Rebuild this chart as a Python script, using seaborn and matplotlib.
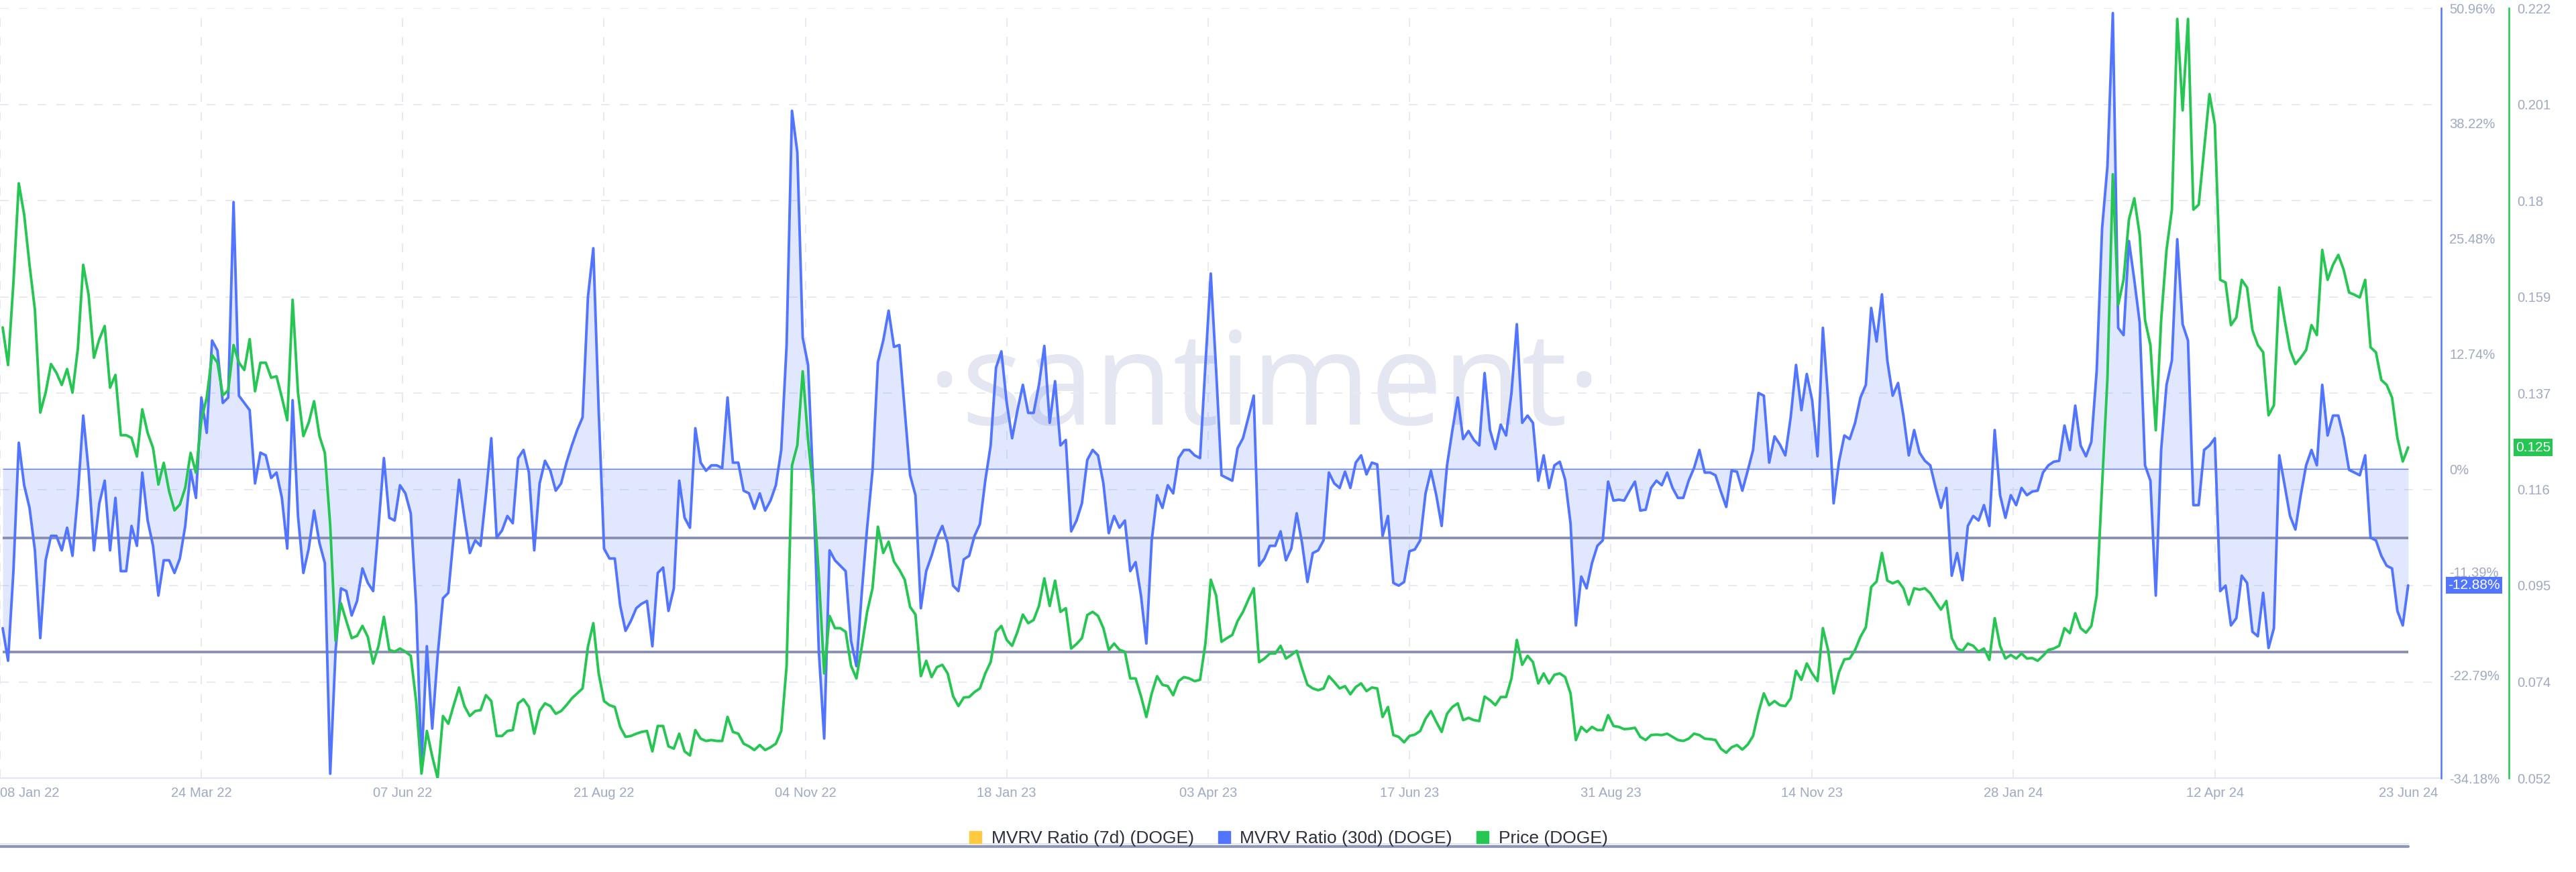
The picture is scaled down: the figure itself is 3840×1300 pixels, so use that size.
import matplotlib
matplotlib.use("Agg")
import matplotlib.pyplot as plt
from matplotlib.lines import Line2D
import pandas as pd
import seaborn as sns

# values, one every 2 days from 09 Jan 22 to 23 Jun 24
start_date = "2022-01-09"

mvrv_30d = [
    -17.6, -21.2, -11.3, 2.9, -1.8, -4.3, -9.0, -18.7, -10.1, -7.4,
    -7.4, -9.0, -6.5, -9.6, -2.9, 5.9, -0.2, -9.0, -3.8, -1.3,
    -9.0, -3.2, -11.3, -11.3, -6.3, -8.5, -0.4, -5.7, -8.5, -14.0,
    -10.1, -10.1, -11.5, -9.9, -6.3, -0.2, -3.2, 7.9, 4.0, 14.2,
    13.1, 7.3, 7.9, 29.5, 8.1, 7.3, 6.5, -1.6, 1.8, 1.5,
    -1.0, -0.4, -3.2, -8.8, 7.6, -5.2, -11.5, -8.8, -4.6, -8.2,
    -10.4, -33.7, -20.1, -13.2, -13.5, -16.2, -14.6, -11.0, -12.6, -13.5,
    -6.3, 1.2, -5.4, -5.7, -1.8, -2.7, -4.9,
    -15.1, -32.6, -19.6, -28.7, -20.7, -14.3, -13.7, -7.4, -1.2, -5.4,
    -9.3, -7.9, -8.5, -2.9, 3.4, -7.6, -6.8, -5.2, -6.0, 1.2,
    2.1, -0.4, -9.0, -1.6, 0.9, -0.2, -2.4, -1.6, 0.7, 2.6,
    4.3, 5.7, 19.0, 24.4, 6.5, -8.8, -9.9, -9.9, -15.1, -17.9,
    -16.8, -15.4, -14.9, -14.6, -19.6, -11.5, -10.9, -15.7, -13.2, -1.3,
    -5.4, -6.5, 4.5, 0.7, -0.2, 0.4, 0.4, 0.1, 7.9, 0.7,
    0.7, -2.4, -2.7, -4.4, -2.7, -4.6, -3.5, -1.8, 2.1, 13.7,
    39.6, 35.0, 14.5,
    11.5, -2.4, -20.1, -29.8, -9.0, -10.1, -10.7, -11.3, -19.0, -21.8,
    -13.7, -6.5, -0.2, 11.8, 14.2, 17.5, 13.5, 13.7, 6.5, -0.7,
    -2.9, -15.4, -11.3, -9.6, -7.6, -6.3, -8.2, -12.9, -13.5, -10.0,
    -9.6, -7.4, -6.1, -1.3, 2.6, 11.2, 13.0, 7.3, 3.4, 6.5,
    9.3, 6.2, 6.2, 9.3, 13.6, 5.1, 9.7, 2.6, 3.2, -6.9,
    -5.7, -3.8, 1.0, 2.1, 1.5, -1.6, -7.1, -5.2, -6.5, -5.7,
    -11.3, -10.3, -14.0, -19.3, -7.9, -2.9, -4.3, -1.8, -2.7, 1.2,
    2.1, 2.1, 1.5, 1.2, 11.5,
    21.6, 10.9, -0.7, -1.0, -1.3, 2.3, 3.4, 5.7, 8.1, -10.7,
    -9.9, -8.5, -8.5, -6.9, -10.1, -8.8, -4.9, -8.2, -12.5, -9.3,
    -9.0, -7.9, -0.4, -1.6, -2.1, -0.3, -2.1, 0.7, 1.5, -0.6,
    0.7, 0.5, -7.4, -5.2, -12.6, -12.9, -12.5, -9.1, -8.9, -7.9,
    -2.7, -0.2, -2.9, -6.3, 0.4, 4.3, 7.9, 3.3, 4.2, 3.2,
    2.6, 10.6, 4.3, 2.2, 4.9, 3.7, 8.4, 16.0, 5.1, 5.9,
    5.1, -1.3, 1.5, -2.1, 0.4, 0.8, -1.2, -6.0, -17.3, -11.9,
    -13.2, -10.4, -8.5, -7.9, -1.4,
    -3.5, -3.4, -3.5, -2.4, -1.4, -4.6, -4.5, -2.1, -1.3, -1.8,
    -0.4, -2.1, -3.2, -3.2, -1.3, 0.1, 2.1, -0.4, -0.4, -0.7,
    -2.5, -4.2, -0.2, -0.3, -2.4, -0.2, 2.1, 8.4, 8.1, 0.7,
    3.6, 2.7, 1.5, 5.7, 11.5, 6.5, 10.5, 7.6, 1.4, 15.6,
    7.5, -3.8, 0.8, 3.7, 3.3, 5.1, 7.9, 9.3, 17.8, 14.1,
    19.3, 12.0, 8.1, 9.5, 5.9, 1.5, 4.3, 1.8, 0.9, 0.4,
    -2.1, -4.3, -2.1, -11.8, -9.3, -12.3, -6.3, -5.2, -5.7, -4.0,
    -6.3, 4.3, -2.9, -5.4, -2.9,
    -4.0, -2.1, -2.9, -2.5, -2.4, -0.4, 0.4, 0.8, 0.9, 4.8,
    2.1, 7.0, 2.6, 1.4, 3.0, 10.9, 26.6, 33.5, 50.4, 15.6,
    14.8, 25.2, 20.9, 16.2, 0.4, -1.3, -14.0, 2.1, 9.3, 12.0,
    25.4, 16.0, 14.2, -4.0, -4.0, 2.1, 2.6, 3.4, -13.5, -12.9,
    -17.3, -16.5, -11.8, -12.6, -18.0, -18.5, -13.7, -19.8, -17.6, 1.5,
    -1.8, -5.2, -6.7, -2.9, 0.4, 2.1, 0.4, 9.3, 3.7, 5.9,
    5.9, 3.4, -0.1, -0.4, -0.7, 1.5, -7.6, -7.9, -9.6, -10.7,
    -11.0, -15.7, -17.3, -12.88,
]

price_doge = [
    0.1515, 0.1432, 0.1614, 0.1833, 0.1764, 0.1653, 0.1554, 0.1327, 0.1371, 0.1434,
    0.1415, 0.1388, 0.1423, 0.1371, 0.1468, 0.1653, 0.1587, 0.1448, 0.1489, 0.1518,
    0.1382, 0.1410, 0.1277, 0.1277, 0.1271, 0.1230, 0.1334, 0.1282, 0.1249, 0.1168,
    0.1216, 0.1153, 0.1111, 0.1124, 0.1161, 0.1238, 0.1194, 0.1310, 0.1360, 0.1454,
    0.1437, 0.1365, 0.1376, 0.1476, 0.1437, 0.1421, 0.1489, 0.1374, 0.1437, 0.1437,
    0.1404, 0.1407, 0.1360, 0.1310, 0.1576, 0.1371, 0.1275, 0.1305, 0.1352, 0.1275,
    0.1238, 0.1078, 0.0823, 0.0906, 0.0867, 0.0829, 0.0834, 0.0856, 0.0832, 0.0773,
    0.0812, 0.0876, 0.0803, 0.0799, 0.0806, 0.0799, 0.0790,
    0.0690, 0.0530, 0.0624, 0.0568, 0.0520, 0.0657, 0.0640, 0.0681, 0.0720, 0.0679,
    0.0657, 0.0668, 0.0670, 0.0703, 0.0690, 0.0613, 0.0613, 0.0624, 0.0626, 0.0685,
    0.0694, 0.0677, 0.0618, 0.0668, 0.0685, 0.0679, 0.0662, 0.0668, 0.0681, 0.0696,
    0.0707, 0.0718, 0.0810, 0.0862, 0.0751, 0.0690, 0.0681, 0.0677, 0.0633, 0.0611,
    0.0613, 0.0618, 0.0622, 0.0624, 0.0579, 0.0635, 0.0635, 0.0590, 0.0585, 0.0618,
    0.0579, 0.0570, 0.0626, 0.0607, 0.0602, 0.0604, 0.0602, 0.0602, 0.0655, 0.0622,
    0.0618, 0.0596, 0.0590, 0.0582, 0.0593, 0.0582, 0.0588, 0.0596, 0.0624, 0.0768,
    0.1210, 0.1255, 0.1418,
    0.1266, 0.1150, 0.0967, 0.0751, 0.0878, 0.0851, 0.0851, 0.0843, 0.0768, 0.0740,
    0.0810, 0.0887, 0.0939, 0.1075, 0.1017, 0.1042, 0.0998, 0.0980, 0.0958, 0.0898,
    0.0881, 0.0745, 0.0779, 0.0743, 0.0765, 0.0770, 0.0751, 0.0701, 0.0679, 0.0698,
    0.0699, 0.0710, 0.0718, 0.0751, 0.0776, 0.0843, 0.0856, 0.0825, 0.0812, 0.0843,
    0.0881, 0.0862, 0.0869, 0.0900, 0.0961, 0.0900, 0.0956, 0.0887, 0.0895, 0.0806,
    0.0816, 0.0829, 0.0880, 0.0887, 0.0878, 0.0851, 0.0803, 0.0817, 0.0803, 0.0799,
    0.0740, 0.0740, 0.0701, 0.0655, 0.0707, 0.0745, 0.0726, 0.0723, 0.0703, 0.0734,
    0.0743, 0.0740, 0.0734, 0.0737, 0.0817,
    0.0958, 0.0923, 0.0821, 0.0829, 0.0836, 0.0867, 0.0887, 0.0914, 0.0939, 0.0776,
    0.0784, 0.0795, 0.0795, 0.0812, 0.0784, 0.0792, 0.0801, 0.0762, 0.0726, 0.0718,
    0.0714, 0.0718, 0.0745, 0.0732, 0.0718, 0.0723, 0.0705, 0.0721, 0.0729, 0.0712,
    0.0720, 0.0718, 0.0655, 0.0677, 0.0615, 0.0611, 0.0599, 0.0613, 0.0616, 0.0624,
    0.0651, 0.0668, 0.0644, 0.0622, 0.0662, 0.0677, 0.0685, 0.0648, 0.0653, 0.0648,
    0.0646, 0.0700, 0.0692, 0.0681, 0.0699, 0.0699, 0.0740, 0.0825, 0.0770, 0.0790,
    0.0776, 0.0729, 0.0751, 0.0729, 0.0748, 0.0751, 0.0743, 0.0707, 0.0604, 0.0633,
    0.0622, 0.0633, 0.0626, 0.0626, 0.0659,
    0.0635, 0.0633, 0.0628, 0.0629, 0.0631, 0.0611, 0.0604, 0.0615, 0.0616, 0.0615,
    0.0618, 0.0611, 0.0604, 0.0602, 0.0607, 0.0618, 0.0615, 0.0607, 0.0606, 0.0604,
    0.0585, 0.0576, 0.0588, 0.0593, 0.0583, 0.0594, 0.0613, 0.0665, 0.0707, 0.0681,
    0.0690, 0.0681, 0.0679, 0.0696, 0.0757, 0.0737, 0.0773, 0.0751, 0.0734, 0.0851,
    0.0801, 0.0707, 0.0754, 0.0782, 0.0784, 0.0803, 0.0832, 0.0853, 0.0942, 0.0954,
    0.1017, 0.0956, 0.0950, 0.0955, 0.0939, 0.0903, 0.0939, 0.0936, 0.0939, 0.0928,
    0.0909, 0.0892, 0.0911, 0.0829, 0.0806, 0.0801, 0.0817, 0.0812, 0.0799, 0.0806,
    0.0781, 0.0873, 0.0812, 0.0784, 0.0792,
    0.0784, 0.0795, 0.0784, 0.0785, 0.0779, 0.0790, 0.0803, 0.0806, 0.0812, 0.0851,
    0.0840, 0.0884, 0.0851, 0.0841, 0.0856, 0.0923, 0.1166, 0.1404, 0.1853, 0.1565,
    0.1620, 0.1753, 0.1800, 0.1720, 0.1531, 0.1476, 0.1288, 0.1531, 0.1686, 0.1775,
    0.2196, 0.1994, 0.2196, 0.1775, 0.1786, 0.1908, 0.2030, 0.1963, 0.1620, 0.1614,
    0.1520, 0.1537, 0.1620, 0.1603, 0.1509, 0.1476, 0.1460, 0.1321, 0.1343, 0.1603,
    0.1531, 0.1465, 0.1434, 0.1448, 0.1465, 0.1520, 0.1498, 0.1686, 0.1620, 0.1653,
    0.1675, 0.1642, 0.1592, 0.1587, 0.1581, 0.1620, 0.1471, 0.1460, 0.1399, 0.1388,
    0.1360, 0.1271, 0.1219, 0.125,
]

# grey reference lines drawn on the chart (MVRV %)
guide_levels = [-7.6, -20.25]

mvrv_ticks = [50.96, 38.22, 25.48, 12.74, 0, -11.39, -22.79, -34.18]
mvrv_tick_labels = ["50.96%", "38.22%", "25.48%", "12.74%", "0%", "-11.39%", "-22.79%", "-34.18%"]
price_ticks = [0.222, 0.20075, 0.1795, 0.15825, 0.137, 0.11575, 0.0945, 0.07325, 0.052]
price_tick_labels = ["0.222", "0.201", "0.18", "0.159", "0.137", "0.116", "0.095", "0.074", "0.052"]
date_ticks = ["2022-01-08", "2022-03-24", "2022-06-07", "2022-08-21", "2022-11-04",
              "2023-01-18", "2023-04-03", "2023-06-17", "2023-08-31", "2023-11-14",
              "2024-01-28", "2024-04-12", "2024-06-23"]
legend_labels = ["MVRV Ratio (7d) (DOGE)", "MVRV Ratio (30d) (DOGE)", "Price (DOGE)"]

BLUE = "#5275ff"
GREEN = "#26c653"
YELLOW = "#ffc940"
GUIDE = "#8a90b2"
TICK = "#a0a9c3"
GRID = "#e7eaf3"

df = pd.DataFrame({
    "date": pd.date_range(start_date, periods=len(mvrv_30d), freq="2D"),
    "mvrv": mvrv_30d,
    "price": price_doge,
})

sns.set_style("white")
plt.rcParams["font.family"] = ["Liberation Sans", "DejaVu Sans"]

fig = plt.figure(figsize=(38.4, 13), dpi=100)
rect = [0, 1 - 1160 / 1300, 3639 / 3840, 1148 / 1300]
xmin = pd.Timestamp(date_ticks[0])
xmax = df["date"].iloc[-1] + pd.Timedelta(days=12.3)

# background axes: grid, date labels, watermark
ax_bg = fig.add_axes(rect, zorder=0)
ax_bg.set_xlim(xmin, xmax)
ax_bg.set_ylim(0.052, 0.222)
ax_bg.set_yticks(price_ticks)
ax_bg.set_xticks(pd.to_datetime(date_ticks))
xlabels = ax_bg.set_xticklabels([pd.Timestamp(d).strftime("%d %b %y") for d in date_ticks])
xlabels[0].set_horizontalalignment("left")
ax_bg.tick_params(axis="x", length=0, pad=9, labelsize=14.5, colors=TICK)
ax_bg.tick_params(axis="y", length=0, labelleft=False)
ax_bg.set_axisbelow(True)
ax_bg.grid(True, color=GRID, lw=1.4, linestyle=(0, (6.7, 7.7)))
ax_bg.get_xgridlines()[-1].set_visible(False)
for s in ["top", "left", "right"]:
    ax_bg.spines[s].set_visible(False)
ax_bg.spines["bottom"].set_color("#e3e7f1")
ax_bg.spines["bottom"].set_linewidth(1.5)
ax_bg.text(0.518, 0.459, "\u00b7santiment\u00b7", transform=ax_bg.transAxes,
           ha="center", va="baseline", fontsize=138, color="#e4e7f1",
           family="Open Sans", zorder=0.2)

# MVRV 30d axis
ax = fig.add_axes(rect, zorder=1, sharex=ax_bg)
ax.patch.set_visible(False)
ax.fill_between(df["date"], df["mvrv"], 0, color=BLUE, alpha=0.17, lw=0, zorder=1)
ax.hlines(0, df["date"].iloc[0], df["date"].iloc[-1], color=BLUE, lw=1.0, zorder=1.5)
ax.hlines(guide_levels, df["date"].iloc[0], df["date"].iloc[-1], color=GUIDE, lw=2.8, zorder=1.8)
sns.lineplot(data=df, x="date", y="mvrv", ax=ax, color=BLUE, linewidth=2.8, zorder=2)
ax.set_ylim(-34.18, 50.96)
ax.set_xlim(xmin, xmax)
ax.set_xlabel("")
ax.set_ylabel("")
ax.yaxis.tick_right()
ax.set_yticks(mvrv_ticks)
ax.set_yticklabels(mvrv_tick_labels)
ax.tick_params(axis="y", length=0, pad=9, labelsize=14.5, colors=TICK)
ax.tick_params(axis="x", bottom=False, labelbottom=False)
for s in ["top", "left", "bottom"]:
    ax.spines[s].set_visible(False)
ax.spines["right"].set_color(BLUE)
ax.spines["right"].set_linewidth(1.8)
ax.annotate("%.2f%%" % mvrv_30d[-1], xy=(1, mvrv_30d[-1]),
            xycoords=("axes fraction", "data"), xytext=(10, 0), textcoords="offset pixels",
            ha="left", va="center", fontsize=15, color="white", annotation_clip=False,
            bbox=dict(boxstyle="square,pad=0.15", fc=BLUE, ec="none"), zorder=5)

# price axis
ax2 = fig.add_axes(rect, zorder=2, sharex=ax_bg)
ax2.patch.set_visible(False)
sns.lineplot(data=df, x="date", y="price", ax=ax2, color=GREEN, linewidth=2.8)
ax2.set_ylim(0.052, 0.222)
ax2.set_xlim(xmin, xmax)
ax2.set_xlabel("")
ax2.set_ylabel("")
ax2.yaxis.tick_right()
ax2.set_yticks(price_ticks)
ax2.set_yticklabels(price_tick_labels)
ax2.tick_params(axis="y", length=0, pad=8.5, labelsize=14.5, colors=TICK)
ax2.tick_params(axis="x", bottom=False, labelbottom=False)
for s in ["top", "left", "bottom"]:
    ax2.spines[s].set_visible(False)
ax2.spines["right"].set_position(("outward", 101 * 72 / 100))
ax2.spines["right"].set_color(GREEN)
ax2.spines["right"].set_linewidth(1.8)
ax2.annotate("%.3f" % price_doge[-1], xy=(1, price_doge[-1]),
             xycoords=("axes fraction", "data"), xytext=(111, 0), textcoords="offset pixels",
             ha="left", va="center", fontsize=15, color="white", annotation_clip=False,
             bbox=dict(boxstyle="square,pad=0.15", fc=GREEN, ec="none"), zorder=5)

# legend and the navigator bar underneath
handles = [Line2D([0], [0], marker="s", linestyle="none", markersize=13,
                  markerfacecolor=c, markeredgecolor=c) for c in [YELLOW, BLUE, GREEN]]
fig.legend(handles, legend_labels, loc="center", bbox_to_anchor=(0.5, 1 - 1250 / 1300),
           ncol=3, frameon=False, fontsize=19, handlelength=0.8, handletextpad=0.5,
           columnspacing=1.3, labelcolor="#2b2f3d")
fig.add_artist(Line2D([0, 3590 / 3840], [1 - 1258 / 1300] * 2, transform=fig.transFigure,
                      color="#dde1ee", lw=1.2))
fig.add_artist(Line2D([0, 3590 / 3840], [1 - 1262 / 1300] * 2, transform=fig.transFigure,
                      color="#8f96b6", lw=3))

fig.savefig("out.png", dpi=100, facecolor="white")
